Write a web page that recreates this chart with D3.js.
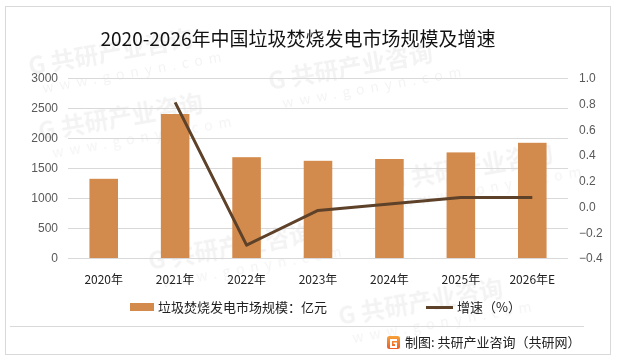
<!DOCTYPE html>
<html>
<head>
<meta charset="utf-8">
<script src="https://cdn.jsdelivr.net/npm/d3@7"></script>
<style>
  body { margin: 0; background: #fff; }
  text { font-family: "Noto Sans CJK SC", "Noto Sans", sans-serif; }
</style>
</head>
<body>
<svg id="chart" width="618" height="361"></svg>
<script>
var years = ["2020年", "2021年", "2022年", "2023年", "2024年", "2025年", "2026年E"];
var marketSize = [1320, 2400, 1680, 1620, 1650, 1760, 1920];
var growth = [null, 0.81, -0.30, -0.03, 0.02, 0.07, 0.07];
var leftTicks = [0, 500, 1000, 1500, 2000, 2500, 3000];
var rightTicks = [-0.4, -0.2, 0, 0.2, 0.4, 0.6, 0.8, 1.0];

var svg = d3.select("#chart");

// outer frame
svg.append("rect").attr("x", 5.5).attr("y", 6.5).attr("width", 605).attr("height", 348)
  .attr("fill", "#fff").attr("stroke", "#d9d9d9");

// faint watermarks, kept inside the frame
var wm = svg.append("g").attr("opacity", 0.05);
var spots = [[40, 140], [270, 90], [390, 190], [150, 270], [340, 325], [30, 75]];
spots.forEach(function(p) {
  var g = wm.append("g").attr("transform", "translate(" + p[0] + "," + p[1] + ") rotate(-10)");
  g.append("text").attr("font-size", 24).attr("font-weight", "bold").attr("fill", "#000").text("G 共研产业咨询");
  g.append("text").attr("x", 10).attr("y", 20).attr("font-size", 14).attr("letter-spacing", 6).attr("fill", "#000").text("www.gonyn.com");
});

var x0 = 68, x1 = 568, yTop = 78, yBot = 258;

var x = d3.scaleBand().domain(years).range([x0, x1]).paddingInner(0.6).paddingOuter(0.3);
var yL = d3.scaleLinear().domain([0, 3000]).range([yBot, yTop]);
var yR = d3.scaleLinear().domain([-0.4, 1.0]).range([yBot, yTop]);

// gridlines
svg.append("g").selectAll("line").data(leftTicks).join("line")
  .attr("x1", x0).attr("x2", x1)
  .attr("y1", function(d) { return Math.round(yL(d)) + 0.5; })
  .attr("y2", function(d) { return Math.round(yL(d)) + 0.5; })
  .attr("stroke", "#d9d9d9").attr("stroke-width", 1);

// left axis
var axL = svg.append("g").attr("transform", "translate(" + x0 + ",0)")
  .call(d3.axisLeft(yL).tickValues(leftTicks).tickSize(0).tickPadding(10).tickFormat(d3.format("d")));
axL.select(".domain").remove();
axL.selectAll("text").attr("font-size", 12).attr("fill", "#595959")
  .style("font-family", "'Liberation Sans', 'Noto Sans', sans-serif");

// right axis
var axR = svg.append("g").attr("transform", "translate(" + x1 + ",0)")
  .call(d3.axisRight(yR).tickValues(rightTicks).tickSize(0).tickPadding(11).tickFormat(d3.format(".1f")));
axR.select(".domain").remove();
axR.selectAll("text").attr("font-size", 12).attr("fill", "#595959")
  .style("font-family", "'Liberation Sans', 'Noto Sans', sans-serif");

// bars
svg.append("g").selectAll("rect").data(marketSize).join("rect")
  .attr("x", function(d, i) { return x(years[i]); })
  .attr("width", x.bandwidth())
  .attr("y", function(d) { return yL(d); })
  .attr("height", function(d) { return yBot - yL(d); })
  .attr("fill", "#d38b4d");

// x labels
svg.append("g").selectAll("text").data(years).join("text")
  .attr("x", function(d) { return x(d) + x.bandwidth() / 2; })
  .attr("y", 284)
  .attr("text-anchor", "middle")
  .attr("font-size", 12).attr("fill", "#222")
  .text(function(d) { return d; });

// growth line
var line = d3.line()
  .defined(function(d) { return d != null; })
  .x(function(d, i) { return x(years[i]) + x.bandwidth() / 2; })
  .y(function(d) { return yR(d); });
svg.append("path").datum(growth)
  .attr("d", line)
  .attr("fill", "none").attr("stroke", "#5e4129").attr("stroke-width", 3)
  .attr("stroke-linejoin", "round");

// title
svg.append("text").attr("x", 298).attr("y", 46).attr("text-anchor", "middle")
  .attr("font-size", 19).attr("fill", "#111")
  .text("2020-2026年中国垃圾焚烧发电市场规模及增速");

// legend
var leg = svg.append("g");
leg.append("rect").attr("x", 130).attr("y", 303).attr("width", 24).attr("height", 8).attr("fill", "#d38b4d");
leg.append("text").attr("x", 158).attr("y", 312).attr("font-size", 13).attr("fill", "#222")
  .text("垃圾焚烧发电市场规模：亿元");
leg.append("line").attr("x1", 426).attr("x2", 453).attr("y1", 307.5).attr("y2", 307.5)
  .attr("stroke", "#5e4129").attr("stroke-width", 3);
leg.append("text").attr("x", 457).attr("y", 312).attr("font-size", 13).attr("fill", "#222")
  .text("增速（%）");

// separator
svg.append("line").attr("x1", 10).attr("x2", 584).attr("y1", 326.5).attr("y2", 326.5)
  .attr("stroke", "#d9d9d9");

// footer logo + source
var defs = svg.append("defs");
var gr = defs.append("linearGradient").attr("id", "lg").attr("x1", 0).attr("y1", 0).attr("x2", 0).attr("y2", 1);
gr.append("stop").attr("offset", "0%").attr("stop-color", "#f7a23a");
gr.append("stop").attr("offset", "100%").attr("stop-color", "#ee5a24");
svg.append("rect").attr("x", 387).attr("y", 336).attr("width", 13).attr("height", 13).attr("rx", 2.5)
  .attr("fill", "url(#lg)");
svg.append("path")
  .attr("d", "M390,339 h7 v2 h-5 v5 h3 v-2 h-1.5 v-1.5 h3.5 v5.5 h-7 z")
  .attr("fill", "#fff");
svg.append("text").attr("x", 405).attr("y", 347).attr("font-size", 13).attr("fill", "#222")
  .text("制图: 共研产业咨询（共研网）");
</script>
</body>
</html>
